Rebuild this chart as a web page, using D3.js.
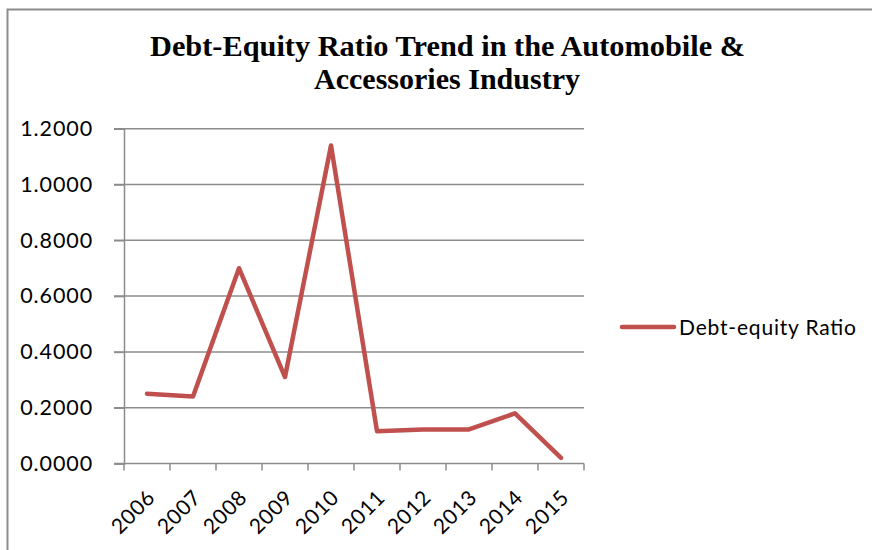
<!DOCTYPE html>
<html>
<head>
<meta charset="utf-8">
<script src="https://cdn.jsdelivr.net/npm/d3@7/dist/d3.min.js"></script>
<style>
  html, body { margin: 0; padding: 0; background: #fff; }
  svg { display: block; }
</style>
</head>
<body>
<svg id="chart" width="872" height="550"></svg>
<script>
// Debt-equity ratio by year
const years = ["2006", "2007", "2008", "2009", "2010", "2011", "2012", "2013", "2014", "2015"];
const debtEquity = [0.25, 0.24, 0.70, 0.31, 1.14, 0.116, 0.122, 0.122, 0.18, 0.02];
const yTicks = [0, 0.2, 0.4, 0.6, 0.8, 1.0, 1.2];
const titleLines = ["Debt-Equity Ratio Trend in the Automobile &", "Accessories Industry"];
const seriesName = "Debt-equity Ratio";

const svg = d3.select("#chart");
const labelFont = "Lato, 'Open Sans', sans-serif";
const lineColor = "#c0504d";
const gridColor = "#8c8c8c";

// outer chart frame
svg.append("rect")
  .attr("x", 7.5).attr("y", 9.5)
  .attr("width", 900).attr("height", 600)
  .attr("fill", "none").attr("stroke", gridColor).attr("stroke-width", 2);

// title
const title = svg.append("g")
  .attr("font-family", "'Liberation Serif', 'Times New Roman', serif")
  .attr("font-weight", "bold").attr("font-size", 29).attr("fill", "#000")
  .attr("text-anchor", "middle");
title.append("text").attr("x", 447.5).attr("y", 56).text(titleLines[0])
  .attr("textLength", 595).attr("lengthAdjust", "spacingAndGlyphs");
title.append("text").attr("x", 447).attr("y", 89).text(titleLines[1])
  .attr("textLength", 266).attr("lengthAdjust", "spacingAndGlyphs");

// plot area
const x = d3.scaleBand().domain(years).range([124, 584]);
const y = d3.scaleLinear().domain([0, 1.2]).range([463.5, 128.7]);

// horizontal gridlines
svg.append("g").selectAll("line").data(yTicks.slice(1)).join("line")
  .attr("x1", 114).attr("x2", 584)
  .attr("y1", d => y(d)).attr("y2", d => y(d))
  .attr("stroke", gridColor).attr("stroke-width", 1.5);

// y axis
const yAxis = svg.append("g").attr("transform", "translate(124,0)")
  .call(d3.axisLeft(y).tickValues(yTicks).tickFormat(d3.format(".4f")).tickSize(10).tickPadding(21));
yAxis.select(".domain").attr("stroke", gridColor).attr("stroke-width", 1.5);
yAxis.selectAll(".tick line").attr("stroke", gridColor).attr("stroke-width", 1.5);
yAxis.selectAll(".tick text")
  .attr("font-family", labelFont).attr("font-size", 21.5).attr("letter-spacing", 0.9)
  .attr("fill", "#000");

// x axis with ticks on category boundaries
const xAxisG = svg.append("g").attr("transform", "translate(0,463.5)");
xAxisG.append("line").attr("x1", 114).attr("x2", 584)
  .attr("stroke", gridColor).attr("stroke-width", 1.5);
const bounds = years.map(d => x(d)).concat([x(years[years.length - 1]) + x.bandwidth()]);
xAxisG.selectAll("line.tk").data(bounds).join("line").attr("class", "tk")
  .attr("x1", d => d).attr("x2", d => d).attr("y1", 0).attr("y2", 7)
  .attr("stroke", gridColor).attr("stroke-width", 1.5);
xAxisG.selectAll("text").data(years).join("text")
  .attr("transform", d => `translate(${x(d) + x.bandwidth() / 2 - 1},${25}) rotate(-45)`)
  .attr("text-anchor", "end").attr("dy", "0.7em")
  .attr("font-family", labelFont).attr("font-size", 21).attr("letter-spacing", 0.7)
  .attr("fill", "#000")
  .text(d => d);

// series line
const line = d3.line()
  .x((d, i) => x(years[i]) + x.bandwidth() / 2)
  .y(d => y(d));
svg.append("path").datum(debtEquity)
  .attr("d", line).attr("fill", "none")
  .attr("stroke", lineColor).attr("stroke-width", 4.5)
  .attr("stroke-linejoin", "round").attr("stroke-linecap", "round");

// legend
const legend = svg.append("g").attr("transform", "translate(622,327)");
legend.append("line").attr("x1", 0).attr("x2", 52)
  .attr("stroke", lineColor).attr("stroke-width", 4.5).attr("stroke-linecap", "round");
legend.append("text").attr("x", 57).attr("y", 8)
  .attr("font-family", labelFont).attr("font-size", 21)
  .attr("textLength", 177).attr("lengthAdjust", "spacing")
  .attr("fill", "#000")
  .text(seriesName);
</script>
</body>
</html>
